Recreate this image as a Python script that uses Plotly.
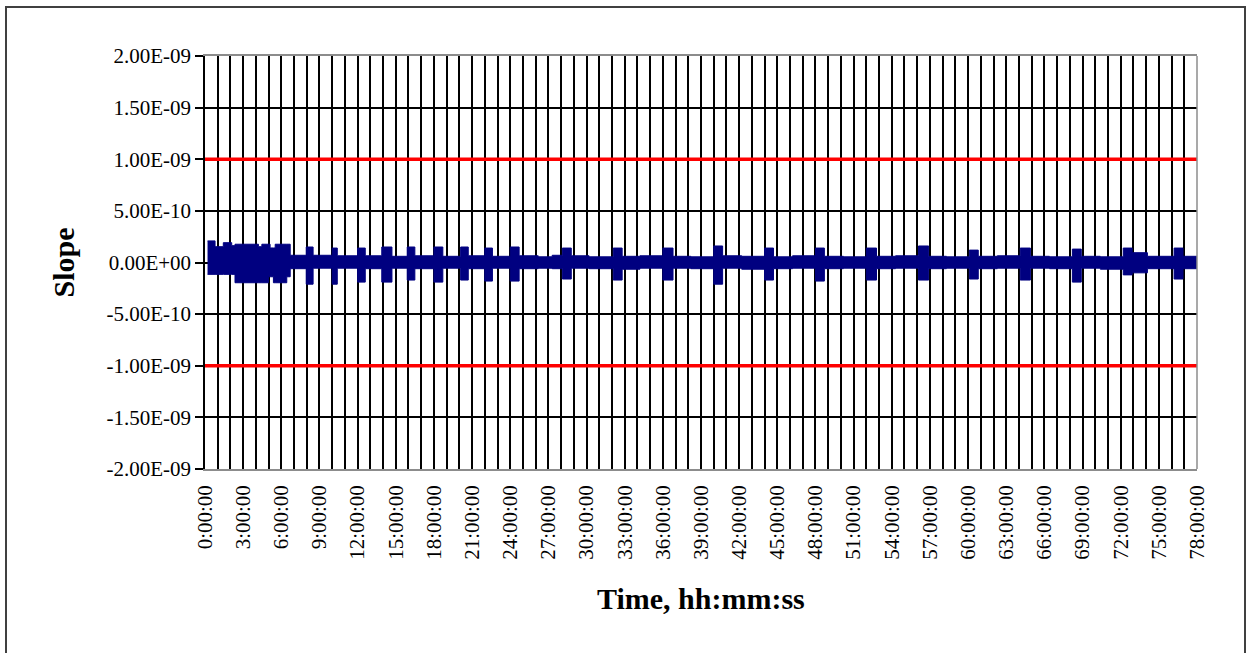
import plotly.graph_objects as go

# Slope record: breakpoints (hours) of the plotted band, with its upper and
# lower extent (units of 1e-10); each value holds until the next breakpoint.
time_hr = [
    0.20, 0.79, 1.44, 2.10, 2.36, 4.20, 4.47, 4.99, 5.12, 5.38, 5.52, 6.43,
    6.70, 7.96, 8.50, 10.0, 10.4, 12.0, 12.6, 13.9, 14.7, 15.9, 16.5, 18.0,
    18.7, 20.1, 20.7, 22.0, 22.6, 24.0, 24.7, 26.2, 27.3, 28.1, 28.8, 30.2,
    32.1, 32.8, 34.2, 36.0, 36.8, 38.2, 40.0, 40.7, 42.2, 44.0, 44.7, 46.2,
    48.0, 48.7, 50.2, 52.0, 52.8, 54.3, 56.1, 56.9, 58.3, 60.1, 60.8, 62.3,
    64.1, 64.9, 66.4, 68.2, 68.9, 70.4, 72.2, 72.9, 74.1, 76.2, 76.9, 78.0,
]
slope_upper = [
    2.09, 1.53, 1.92, 1.63, 1.77, 1.53, 1.77, 1.77, 1.41, 1.41, 1.77, 1.77,
    0.70, 1.50, 0.70, 1.40, 0.65, 1.40, 0.65, 1.50, 0.60, 1.50, 0.65, 1.50,
    0.60, 1.50, 0.65, 1.40, 0.60, 1.50, 0.65, 0.55, 0.70, 1.40, 0.65, 0.55,
    1.40, 0.60, 0.65, 1.40, 0.60, 0.55, 1.60, 0.65, 0.60, 1.40, 0.55, 0.65,
    1.40, 0.60, 0.55, 1.40, 0.60, 0.65, 1.60, 0.60, 0.55, 1.20, 0.60, 0.65,
    1.40, 0.60, 0.55, 1.30, 0.60, 0.55, 1.40, 0.95, 0.60, 1.40, 0.60, 0.55,
]
slope_lower = [
    -1.15, -1.15, -1.15, -1.15, -1.96, -1.96, -1.96, -1.38, -1.38, -1.96, -1.96, -1.38,
    -0.60, -2.10, -0.55, -2.10, -0.55, -1.90, -0.60, -1.90, -0.55, -1.70, -0.60, -1.90,
    -0.55, -1.70, -0.60, -1.80, -0.55, -1.80, -0.60, -0.55, -0.60, -1.60, -0.55, -0.60,
    -1.70, -0.65, -0.55, -1.70, -0.55, -0.60, -2.10, -0.55, -0.65, -1.70, -0.60, -0.55,
    -1.80, -0.60, -0.55, -1.70, -0.60, -0.55, -1.70, -0.60, -0.55, -1.60, -0.60, -0.55,
    -1.70, -0.55, -0.60, -1.90, -0.55, -0.65, -1.20, -1.00, -0.60, -1.60, -0.60, -0.55,
]
SCALE = 1e-10

# Limit lines
limit_time = [0, 78]
limit_upper = [1e-9, 1e-9]
limit_lower = [-1e-9, -1e-9]

# Axis ticks
x_hours = list(range(0, 79))
x_labels = [f"{h}:00:00" if h % 3 == 0 else "" for h in x_hours]
y_vals = [2e-9, 1.5e-9, 1e-9, 5e-10, 0, -5e-10, -1e-9, -1.5e-9, -2e-9]
y_labels = ["2.00E-09", "1.50E-09", "1.00E-09", "5.00E-10", "0.00E+00",
            "-5.00E-10", "-1.00E-09", "-1.50E-09", "-2.00E-09"]

SERIF = "Times New Roman, Liberation Serif, serif"
NAVY = "#000080"

fig = go.Figure()

fig.add_trace(go.Scatter(
    x=time_hr, y=[v * SCALE for v in slope_lower],
    mode="lines", line=dict(color=NAVY, width=1, shape="hv"),
    hoverinfo="skip", showlegend=False,
))
fig.add_trace(go.Scatter(
    x=time_hr, y=[v * SCALE for v in slope_upper],
    mode="lines", line=dict(color=NAVY, width=1, shape="hv"),
    fill="tonexty", fillcolor=NAVY,
    name="Slope", showlegend=False,
))
for lim in (limit_upper, limit_lower):
    fig.add_trace(go.Scatter(
        x=limit_time, y=lim, mode="lines",
        line=dict(color="#FF0000", width=3.5),
        hoverinfo="skip", showlegend=False,
    ))

W, H = 1246, 653
ML, MR, MT, MB = 205, 49, 56, 184
PW, PH = W - ML - MR, H - MT - MB

fig.update_layout(
    width=W, height=H,
    margin=dict(l=ML, r=MR, t=MT, b=MB, pad=0),
    paper_bgcolor="white", plot_bgcolor="white",
    font=dict(family=SERIF, color="black"),
    xaxis=dict(
        range=[0, 78], tickmode="array", tickvals=x_hours, ticktext=x_labels,
        tickangle=-90, tickfont=dict(size=21, family=SERIF),
        ticks="outside", ticklen=6, tickcolor="rgba(0,0,0,0)",
        showgrid=True, gridcolor="black", gridwidth=1.5,
        showline=True, linecolor="#8c8c8c", linewidth=1.5, mirror=True,
        zeroline=False,
    ),
    yaxis=dict(
        range=[-2e-9, 2e-9], tickmode="array", tickvals=y_vals, ticktext=y_labels,
        tickfont=dict(size=21, family=SERIF),
        ticks="outside", ticklen=8, tickcolor="black", tickwidth=1.5,
        showgrid=True, gridcolor="black", gridwidth=1.5,
        showline=True, linecolor="black", linewidth=1.5,
        zeroline=False,
    ),
    shapes=[
        # right edge of the plot area
        dict(type="line", xref="paper", yref="paper", x0=1, x1=1, y0=0, y1=1,
             line=dict(color="#8c8c8c", width=1.5), layer="above"),
        # chart frame
        dict(type="rect", xref="paper", yref="paper",
             x0=(6 - ML) / PW, x1=(1245 - ML) / PW,
             y0=-(MB + 10) / PH, y1=1 + (MT - 7) / PH,
             line=dict(color="#404040", width=2), fillcolor="rgba(0,0,0,0)"),
    ],
    annotations=[
        dict(text="<b>Slope</b>", xref="paper", yref="paper",
             x=(63 - ML) / PW, y=0.5, textangle=-90, showarrow=False,
             font=dict(size=30, family=SERIF), xanchor="center", yanchor="middle"),
        dict(text="<b>Time, hh:mm:ss</b>", xref="paper", yref="paper",
             x=0.5, y=-(598 - MT - PH) / PH, showarrow=False,
             font=dict(size=30, family=SERIF), xanchor="center", yanchor="middle"),
    ],
)

fig.write_html("out.html")
